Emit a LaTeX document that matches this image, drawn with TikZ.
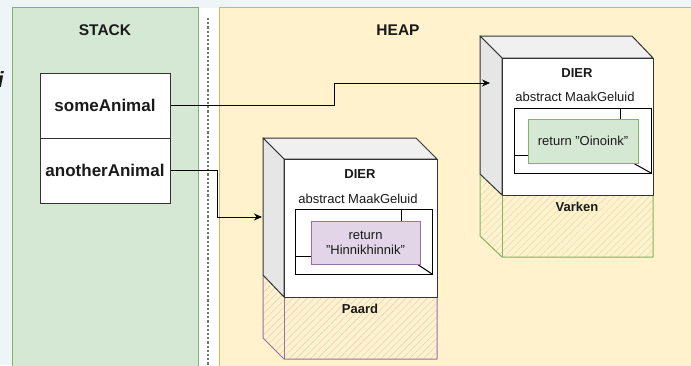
\documentclass[tikz,border=0pt]{standalone}
\usepackage{fontspec}
\setmainfont{Liberation Sans}
\usetikzlibrary{arrows.meta,patterns.meta}
\definecolor{bg}{HTML}{EEF5F9}
\definecolor{stackfill}{HTML}{D5E8D4}
\definecolor{stackline}{HTML}{82B366}
\definecolor{heapfill}{HTML}{FFF2CC}
\definecolor{heapline}{HTML}{D6B656}
\definecolor{purfill}{HTML}{E1D5E7}
\definecolor{purline}{HTML}{9673A6}
\definecolor{topface}{HTML}{F0F0F0}
\definecolor{sideface}{HTML}{E6E6E6}
\definecolor{edge}{HTML}{333333}
\definecolor{txt}{HTML}{1A1A1A}
\colorlet{purhatch}{purline!25!heapfill}
\colorlet{greenhatch}{stackline!25!heapfill}
\tikzset{
  paneltitle/.style={font=\bfseries\fontsize{15.5}{17}\selectfont, text=txt, inner sep=0pt},
  cell/.style={draw=edge, fill=white, line width=1pt, minimum width=130pt, minimum height=65pt, inner sep=0pt, font=\bfseries\fontsize{17}{19}\selectfont, text=txt},
  lbl/.style={font=\fontsize{13}{15}\selectfont, text=txt, inner sep=0pt, align=center},
  blbl/.style={font=\bfseries\fontsize{13}{15}\selectfont, text=txt, inner sep=0pt},
  edgeline/.style={draw=edge, line width=1pt, line join=round},
  conn/.style={draw=black, line width=1pt, -{Stealth[length=8pt,width=7pt]}},
  hatchp/.style={pattern={Lines[angle=45,distance=5pt,line width=0.6pt]}, pattern color=#1},
}
\begin{document}
\begin{tikzpicture}[x=1pt,y=-1pt]
\useasboundingbox (0,0) rectangle (691,365);
\fill[bg] (0,0) rectangle (691,365);
\fill[white] (12,7.5) rectangle (691,365);
% fragment at left edge
\node[font=\bfseries\itshape\fontsize{22}{22}\selectfont, text=txt, anchor=base east, inner sep=0pt] (frag) at (4,87) {i};
% panels
\draw[fill=stackfill, draw=stackline, line width=1pt] (12,7.5) rectangle (198,375);
\draw[fill=heapfill, draw=heapline, line width=1pt] (219,7.5) rectangle (700,375);
\draw[draw=gray!90!black, line width=1.6pt, dash pattern=on 2.2pt off 2pt] (208,18) -- (208,365);
\node[paneltitle] (stacklbl) at (105,30) {STACK};
\node[paneltitle] (heaplbl) at (398,30.5) {HEAP};
% stack cells
\node[cell] (some) at (105,105.5) {someAnimal};
\node[cell] (another) at (105,170.5) {anotherAnimal};

% ---------- cube 2 (Paard) ----------
\fill[hatchp=purhatch] (263,275) -- (284,297) -- (437,297) -- (437,359) -- (284,359) -- (263,338) -- cycle;
\draw[draw=purline, line width=1pt, line join=round] (263,275) -- (263,338) -- (284,359) -- (437,359) -- (437,297);
\draw[draw=purline, line width=1pt] (284,297) -- (284,359);
\filldraw[edgeline, fill=topface] (263,138) -- (416,138) -- (437,159) -- (284,159) -- cycle;
\filldraw[edgeline, fill=sideface] (263,138) -- (284,159) -- (284,297) -- (263,275) -- cycle;
\filldraw[edgeline, fill=white] (284,159) rectangle (437,297);
\node[blbl] (dier2) at (360,174) {DIER};
\node[lbl] (abs2) at (358,199) {abstract MaakGeluid};
\draw[draw=black, line width=1pt] (295,209) rectangle (432,274);
\draw[draw=black, line width=1pt] (401,209) -- (401,221);
\draw[draw=black, line width=1pt] (295,256) -- (311,256);
\draw[draw=black, line width=1pt] (417,264) -- (432,274);
\node[lbl, draw=purline, fill=purfill, line width=1pt, minimum width=109pt, minimum height=43pt] (ret2) at (365.5,242.5) {return\\"Hinnikhinnik"};
\node[blbl] (paard) at (360,309) {Paard};

% ---------- cube 1 (Varken) ----------
\fill[hatchp=greenhatch] (480,174) -- (502,195) -- (653,195) -- (653,257) -- (502,257) -- (480,236) -- cycle;
\draw[draw=stackline, line width=1pt, line join=round] (480,174) -- (480,236) -- (502,257) -- (653,257) -- (653,195);
\draw[draw=stackline, line width=1pt] (502,195) -- (502,257);
\filldraw[edgeline, fill=topface] (480,36) -- (632,36) -- (653,58) -- (502,58) -- cycle;
\filldraw[edgeline, fill=sideface] (480,36) -- (502,58) -- (502,195) -- (480,174) -- cycle;
\filldraw[edgeline, fill=white] (502,58) rectangle (653,195);
\node[blbl] (dier1) at (577,73) {DIER};
\node[lbl] (abs1) at (575,97) {abstract MaakGeluid};
\draw[draw=black, line width=1pt] (514,108) rectangle (651,173);
\draw[draw=black, line width=1pt] (620,108) -- (620,119);
\draw[draw=black, line width=1pt] (514,155) -- (528,155);
\draw[draw=black, line width=1pt] (633,163) -- (651,173);
\node[lbl, draw=stackline, fill=stackfill, line width=1pt, minimum width=110pt, minimum height=44pt] (ret1) at (583,141) {return "Oinoink"};
\node[blbl] (varken) at (577,207) {Varken};

% connectors
\coordinate (t1) at (490,83);
\coordinate (t2) at (262,217);
\draw[conn] (some.east) -- (334,105.5) |- (t1);
\draw[conn] (another.east) -- (217,170.5) |- (t2);
\end{tikzpicture}
\end{document}
